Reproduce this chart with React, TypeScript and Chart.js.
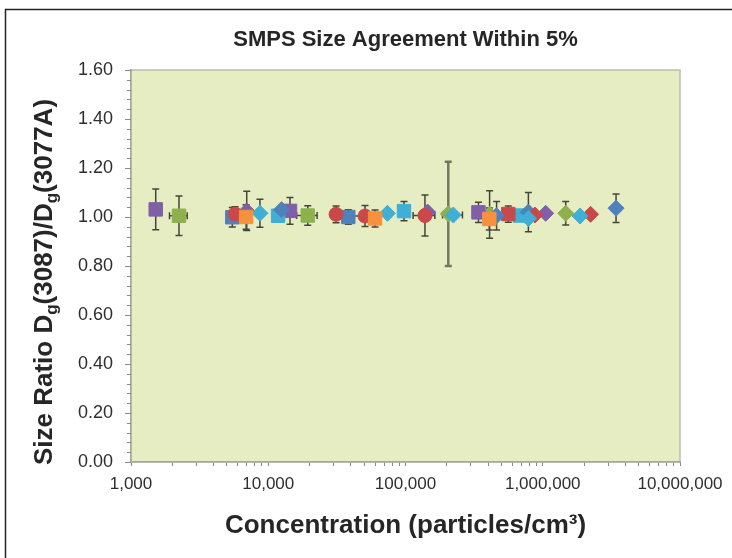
import React, { useEffect, useRef } from "react";
import { Chart, registerables } from "chart.js";

Chart.register(...registerables);

// ---------- data ----------
const titleText = "SMPS Size Agreement Within 5%";
const xTitleText = "Concentration (particles/cm³)";
const xTickValues = [1000, 10000, 100000, 1000000, 10000000];

// purple squares
const purpleSqX = [1514, 14400, 340000];
const purpleSqY = [1.031, 1.025, 1.019];
const purpleSqErr = [0.083, 0.055, 0.041];
// purple diamonds
const purpleDiX = [6970, 145000, 1050000];
const purpleDiY = [1.025, 1.02, 1.015];
const purpleDiErr = [0.08, 0, 0];
// green squares (with horizontal error)
const greenSqX = [2237, 19400];
const greenSqY = [1.005, 1.006];
const greenSqErr = [0.081, 0.04];
const greenSqXErr = [330, 3300];
// green diamonds
const greenDiX = [205000, 410000, 1470000];
const greenDiY = [1.013, 1.01, 1.015];
const greenDiErr = [0.213, 0.097, 0.048];
// red circles
const redCiX = [5730, 31200, 50700, 138600];
const redCiY = [1.012, 1.011, 1.004, 1.006];
const redCiErr = [0.03, 0.034, 0.043, 0.084];
const redCiXErr = [0, 0, 9000, 25000];
// red squares
const redSqX = [561000];
const redSqY = [1.012];
const redSqErr = [0.033];
// red diamonds
const redDiX = [877000, 2230000];
const redDiY = [1.008, 1.011];
// blue squares
const blueSqX = [5470, 38300];
const blueSqY = [0.999, 1.0];
const blueSqErr = [0.04, 0.03];
// blue diamonds
const blueDiX = [12500, 461000, 786000, 3420000];
const blueDiY = [1.03, 1.005, 1.02, 1.036];
const blueDiErr = [0, 0.058, 0.08, 0.058];
// aqua squares
const aquaSqX = [11800, 97500, 682000];
const aquaSqY = [1.005, 1.024, 1.006];
const aquaSqErr = [0, 0.039, 0];
// aqua diamonds
const aquaDiX = [8700, 73800, 223000, 786000, 1870000];
const aquaDiY = [1.015, 1.015, 1.008, 0.994, 1.004];
const aquaDiErr = [0.057, 0, 0, 0, 0];
const aquaDiXErr = [0, 0, 37000, 0, 0];
// orange squares
const orangeSqX = [6900, 60000, 408000];
const orangeSqY = [1.0, 0.994, 0.992];
const orangeSqErr = [0.05, 0.035, 0.045];

const COLORS = {
  blue: "#4F81BD",
  red: "#C9484A",
  green: "#8EB14E",
  purple: "#7F5FA8",
  aqua: "#3FAFD6",
  orange: "#F7913D",
};

type Pt = { x: number; y: number; e: number; xe: number };
function pts(xs: number[], ys: number[], es?: number[], xes?: number[]): Pt[] {
  return xs.map((x, i) => ({ x, y: ys[i], e: es ? es[i] : 0, xe: xes ? xes[i] : 0 }));
}

function ds(data: Pt[], color: string, style: string, radius: number) {
  return {
    data,
    showLine: false,
    pointStyle: style,
    pointRadius: radius,
    pointBackgroundColor: color,
    pointBorderColor: color,
    pointBorderWidth: 1,
  };
}

const FONT = "'Liberation Sans', Arial, sans-serif";

const bgPlugin = {
  id: "bg",
  beforeDraw(chart: any) {
    const { ctx, chartArea: a, width, height } = chart;
    ctx.save();
    ctx.fillStyle = "#ffffff";
    ctx.fillRect(0, 0, width, height);
    // outer frame
    ctx.strokeStyle = "#222";
    ctx.lineWidth = 1.5;
    ctx.beginPath();
    ctx.moveTo(5.5, height);
    ctx.lineTo(5.5, 9.5);
    ctx.lineTo(width, 9.5);
    ctx.stroke();
    // plot area
    ctx.fillStyle = "#E6EDC3";
    ctx.fillRect(a.left, a.top, a.right - a.left, a.bottom - a.top);
    ctx.strokeStyle = "#BDBDAE";
    ctx.lineWidth = 1.5;
    ctx.strokeRect(a.left, a.top, a.right - a.left, a.bottom - a.top);
    ctx.restore();
  },
};

const errPlugin = {
  id: "errbars",
  beforeDatasetsDraw(chart: any) {
    const { ctx } = chart;
    const xs = chart.scales.x;
    const ys = chart.scales.y;
    ctx.save();
    chart.data.datasets.forEach((d: any) => {
      d.data.forEach((p: Pt) => {
        const px = xs.getPixelForValue(p.x);
        const py = ys.getPixelForValue(p.y);
        if (p.e > 0) {
          const t = ys.getPixelForValue(p.y + p.e);
          const b = ys.getPixelForValue(p.y - p.e);
          ctx.lineWidth = p.e > 0.15 ? 2.5 : 1.5;
          ctx.strokeStyle = p.e > 0.15 ? "#767660" : "#45453A";
          ctx.beginPath();
          ctx.moveTo(px, t);
          ctx.lineTo(px, b);
          ctx.moveTo(px - 3.5, t);
          ctx.lineTo(px + 3.5, t);
          ctx.moveTo(px - 3.5, b);
          ctx.lineTo(px + 3.5, b);
          ctx.stroke();
        }
        if (p.xe > 0) {
          const l = xs.getPixelForValue(p.x - p.xe);
          const r = xs.getPixelForValue(p.x + p.xe);
          ctx.lineWidth = 1.5;
          ctx.strokeStyle = "#45453A";
          ctx.beginPath();
          ctx.moveTo(l, py);
          ctx.lineTo(r, py);
          ctx.moveTo(l, py - 3.5);
          ctx.lineTo(l, py + 3.5);
          ctx.moveTo(r, py - 3.5);
          ctx.lineTo(r, py + 3.5);
          ctx.stroke();
        }
      });
    });
    ctx.restore();
  },
};

const textPlugin = {
  id: "texts",
  afterDraw(chart: any) {
    const { ctx, chartArea: a } = chart;
    const ys = chart.scales.y;
    ctx.save();
    // minor y ticks
    ctx.strokeStyle = "#8A8A80";
    ctx.lineWidth = 1;
    for (let i = 0; i <= 40; i++) {
      const v = i * 0.04;
      const py = Math.round(ys.getPixelForValue(v)) + 0.5;
      ctx.beginPath();
      ctx.moveTo(a.left - 4, py);
      ctx.lineTo(a.left, py);
      ctx.stroke();
    }
    ctx.fillStyle = "#262626";
    ctx.textBaseline = "middle";
    ctx.textAlign = "center";
    const cx = (a.left + a.right) / 2;
    ctx.font = `bold 22px ${FONT}`;
    ctx.fillText(titleText, cx, 40);
    ctx.font = `bold 26px ${FONT}`;
    ctx.fillText(xTitleText, cx, 526);

    // y title with subscripts
    const big = `bold 26px ${FONT}`;
    const small = `bold 17px ${FONT}`;
    const segs: [string, boolean][] = [
      ["Size Ratio D", false],
      ["g", true],
      ["(3087)/D", false],
      ["g", true],
      ["(3077A)", false],
    ];
    let total = 0;
    const widths = segs.map(([t, s]) => {
      ctx.font = s ? small : big;
      const w = ctx.measureText(t).width;
      total += w;
      return w;
    });
    ctx.translate(43, 282);
    ctx.rotate(-Math.PI / 2);
    ctx.textAlign = "left";
    ctx.textBaseline = "alphabetic";
    let x = -total / 2;
    segs.forEach(([t, s], i) => {
      ctx.font = s ? small : big;
      ctx.fillText(t, x, s ? 14 : 9);
      x += widths[i];
    });
    ctx.restore();
  },
};

export default function App() {
  const ref = useRef<HTMLCanvasElement | null>(null);
  useEffect(() => {
    document.body.style.margin = "0";
    const canvas = ref.current!;
    const chart = new Chart(canvas, {
      type: "scatter",
      data: {
        datasets: [
          ds(pts(orangeSqX, orangeSqY, orangeSqErr), COLORS.orange, "rect", 9.5),
          ds(pts(aquaDiX, aquaDiY, aquaDiErr, aquaDiXErr), COLORS.aqua, "rectRot", 8),
          ds(pts(redCiX, redCiY, redCiErr, redCiXErr), COLORS.red, "circle", 7),
          ds(pts(redDiX, redDiY), COLORS.red, "rectRot", 8),
          ds(pts(blueDiX, blueDiY, blueDiErr), COLORS.blue, "rectRot", 8),
          ds(pts(purpleDiX, purpleDiY, purpleDiErr), COLORS.purple, "rectRot", 8),
          ds(pts(redSqX, redSqY, redSqErr), COLORS.red, "rect", 9.5),
          ds(pts(aquaSqX, aquaSqY, aquaSqErr), COLORS.aqua, "rect", 9.5),
          ds(pts(blueSqX, blueSqY, blueSqErr), COLORS.blue, "rect", 9.5),
          ds(pts(purpleSqX, purpleSqY, purpleSqErr), COLORS.purple, "rect", 9.5),
          ds(pts(greenSqX, greenSqY, greenSqErr, greenSqXErr), COLORS.green, "rect", 9.5),
          ds(pts(greenDiX, greenDiY, greenDiErr), COLORS.green, "rectRot", 8),
        ] as any,
      },
      options: {
        animation: false,
        responsive: false,
        devicePixelRatio: 1,
        layout: { padding: { left: 0, top: 70, right: 52, bottom: 0 } },
        plugins: { legend: { display: false }, tooltip: { enabled: false } },
        scales: {
          x: {
            type: "logarithmic",
            min: 1000,
            max: 10000000,
            border: { display: true, color: "#A8A89A", width: 1.5 },
            grid: { display: true, drawOnChartArea: false, drawTicks: true, tickLength: 4, color: "#8A8A80" },
            afterBuildTicks: (s: any) => {
              const t: any[] = [];
              for (let e = 3; e < 7; e++) {
                for (let m = 1; m < 10; m++) t.push({ value: m * Math.pow(10, e) });
              }
              t.push({ value: 1e7 });
              s.ticks = t;
            },
            ticks: {
              autoSkip: false,
              maxRotation: 0,
              padding: 8,
              color: "#2E2E2E",
              font: { family: FONT, size: 17 },
              callback: (v: any) =>
                xTickValues.includes(Number(v)) ? Number(v).toLocaleString("en-US") : "",
            },
            afterFit: (s: any) => {
              s.height = 96;
            },
          },
          y: {
            min: 0,
            max: 1.6,
            border: { display: true, color: "#A8A89A", width: 1.5 },
            grid: { display: true, drawOnChartArea: false, drawTicks: true, tickLength: 6, color: "#8A8A80" },
            ticks: {
              stepSize: 0.2,
              padding: 12,
              color: "#2E2E2E",
              font: { family: FONT, size: 18 },
              callback: (v: any) => Number(v).toFixed(2),
            },
            afterFit: (s: any) => {
              s.width = 131;
            },
          },
        },
      },
      plugins: [bgPlugin, errPlugin, textPlugin],
    });
    return () => chart.destroy();
  }, []);
  return (
    <div style={{ position: "fixed", left: 0, top: 0, width: 732, height: 558 }}>
      <canvas ref={ref} width={732} height={558} style={{ width: 732, height: 558, display: "block" }} />
    </div>
  );
}
